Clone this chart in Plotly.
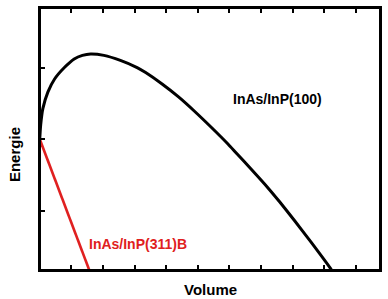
import plotly.graph_objects as go

# InAs/InP(100) curve
vol_100 = [0.0, 0.03, 0.10, 0.26, 0.47, 0.78, 1.09, 1.35, 1.61, 2.03, 2.55, 3.08, 3.35, 3.87,
           4.39, 4.92, 5.44, 5.96, 6.17, 6.69, 7.22, 7.58, 8.05, 8.57, 9.19, 9.25]
en_100 = [2.0, 2.20, 2.43, 2.66, 2.84, 3.00, 3.12, 3.17, 3.19, 3.17, 3.10, 3.00, 2.93, 2.77,
          2.59, 2.38, 2.16, 1.93, 1.83, 1.58, 1.32, 1.13, 0.87, 0.57, 0.20, 0.16]

# InAs/InP(311)B line
vol_311 = [0.0, 1.57]
en_311 = [2.0, 0.17]

x_ticks = [1, 2, 3, 4, 5, 6, 7, 8, 9, 10]
y_ticks = [1, 2, 3]

fig = go.Figure()
fig.add_trace(go.Scatter(x=vol_100, y=en_100, mode="lines",
                         line=dict(color="black", width=3, shape="spline", smoothing=0.6),
                         showlegend=False, hoverinfo="skip"))
fig.add_trace(go.Scatter(x=vol_311, y=en_311, mode="lines",
                         line=dict(color="#e02020", width=2.6),
                         showlegend=False, hoverinfo="skip"))

font = "Liberation Sans, Arial, sans-serif"
L, R, T, B = 41, 6, 6, 30
PW, PH = 388 - L - R, 299 - T - B


def px(x):
    return (x - L) / PW


def py(y):
    return 1 - (y - T) / PH


def ann(x, y, text, size, color, angle=0):
    return dict(x=px(x), y=py(y), xref="paper", yref="paper", text=text,
                showarrow=False, xanchor="center", yanchor="middle", textangle=angle,
                font=dict(family=font, size=size, color=color))


fig.update_layout(
    width=388, height=299,
    margin=dict(l=L, r=R, t=T, b=B),
    paper_bgcolor="white", plot_bgcolor="white",
    xaxis=dict(range=[0.04, 10.73], tickvals=x_ticks, showticklabels=False,
               ticks="inside", ticklen=4, tickwidth=2, tickcolor="black",
               showline=True, linecolor="black", linewidth=3, mirror="ticks",
               showgrid=False, zeroline=False),
    yaxis=dict(range=[0.189, 3.817], tickvals=y_ticks, showticklabels=False,
               ticks="inside", ticklen=4, tickwidth=2, tickcolor="black",
               showline=True, linecolor="black", linewidth=3, mirror=True,
               showgrid=False, zeroline=False),
    annotations=[
        ann(280, 97.5, "<b>InAs/InP(100)</b>", 14, "black"),
        ann(139, 243.5, "<b>InAs/InP(311)B</b>", 14, "#e02020"),
        ann(212.5, 290, "<b>Volume</b>", 15, "black"),
        ann(15, 153.5, "<b>Energie</b>", 15, "black", -90),
    ],
)

fig.write_html("out.html")
